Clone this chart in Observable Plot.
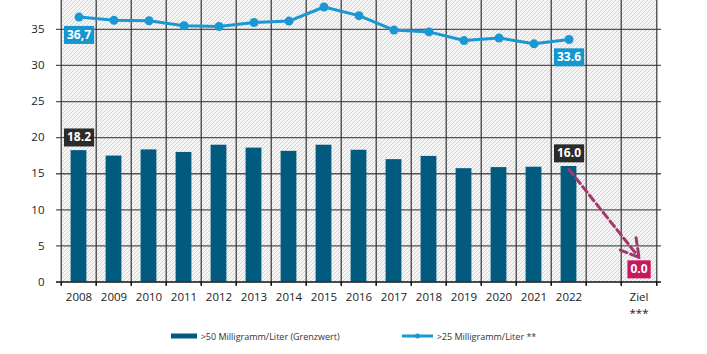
<!DOCTYPE html>
<html>
<head>
<meta charset="utf-8">
<script src="https://cdn.jsdelivr.net/npm/d3@7"></script>
<script src="https://cdn.jsdelivr.net/npm/@observablehq/plot@0.6"></script>
<style>
  body { margin: 0; background: #fff; }
  #legend { display: flex; justify-content: center; gap: 62px; height: 36px; align-items: center;
            font-family: "Open Sans", sans-serif; font-size: 9px; color: #333; }
  .item { display: flex; align-items: center; gap: 4px; }
</style>
</head>
<body>
<div id="chart"></div>
<div id="legend">
  <div class="item"><svg width="26" height="6"><rect x="0" y="0.5" width="26" height="5" fill="#025a7e"></rect></svg><span>&gt;50 Milligramm/Liter (Grenzwert)</span></div>
  <div class="item"><svg width="31" height="8"><line x1="0" y1="4" x2="31" y2="4" stroke="#1a98d3" stroke-width="3"></line><circle cx="15.5" cy="4" r="2.5" fill="#1a98d3"></circle></svg><span>&gt;25 Milligramm/Liter **</span></div>
</div>
<script>
const years = ["2008","2009","2010","2011","2012","2013","2014","2015","2016","2017","2018","2019","2020","2021","2022"];
const categories = [...years, " ", "Ziel"];
const xTickLabels = [...years, "", "Ziel"];
const footnoteMarks = [{cat: "Ziel", text: "***"}];
const barValues = [18.2, 17.45, 18.3, 17.95, 18.95, 18.55, 18.1, 18.95, 18.25, 16.95, 17.4, 15.7, 15.85, 15.9, 16.0];
const lineValues = [36.7, 36.25, 36.2, 35.5, 35.4, 35.95, 36.15, 38.1, 36.9, 34.9, 34.65, 33.45, 33.8, 33.0, 33.6];
const yTicks = [0, 5, 10, 15, 20, 25, 30, 35];
const yMax = 39;
const lineLabels = [{year: "2008", value: 36.7, text: "36,7"}, {year: "2022", value: 33.6, text: "33.6"}];
const barLabels = [{year: "2008", value: 18.2, text: "18.2"}, {year: "2022", value: 16.0, text: "16.0"}];
const targetLabels = [{year: "Ziel", value: 0, text: "0.0"}];
const arrowData = [{from: "2022", fromValue: 15.6, to: "Ziel", toValue: 3.4}];

const W = 707, H = 318, ML = 56, MR = 46, MB = 36.5;
const bw = (W - ML - MR) / categories.length;

// marker fills, swapped for the real styles after rendering
const FRAME_KEY = "#fefefe";
const boxColors = {"#fffffe": "#1496cf", "#fffffd": "#2b2b2b", "#fffffc": "#c8175f"};

const svg = Plot.plot({
  width: W, height: H, marginLeft: ML, marginRight: MR, marginTop: 0, marginBottom: MB,
  style: {fontFamily: "Open Sans, sans-serif", fontSize: "11.5px", color: "#222", background: "white", overflow: "visible"},
  x: {domain: categories, padding: 0, label: null, tickSize: 0, tickPadding: 11,
      tickFormat: d => xTickLabels[categories.indexOf(d)]},
  y: {domain: [0, yMax], ticks: yTicks, label: null, tickSize: 0, tickPadding: 12},
  marks: [
    Plot.barY(categories, {x: d => d, y1: 0, y2: yMax, fill: FRAME_KEY, shapeRendering: "crispEdges"}),
    Plot.ruleY(yTicks.filter(d => d > 0), {stroke: "#555", strokeWidth: 1.3}),
    Plot.ruleX(categories, {x: d => d, dx: -bw / 2, stroke: "#333", strokeWidth: 1.2}),
    Plot.ruleX(categories.slice(-1), {x: d => d, dx: bw / 2, stroke: "#333", strokeWidth: 1.2}),
    Plot.barY(barValues, {x: years, y: barValues, fill: "#025a7e", insetLeft: 9.6, insetRight: 9.6}),
    Plot.ruleY([0], {stroke: "#111", strokeWidth: 1.6}),
    Plot.ruleX(categories, {x: d => d, dx: -bw / 2, y1: 0, y2: -0.6, stroke: "#111", strokeWidth: 1.6}),
    Plot.ruleX(categories.slice(-1), {x: d => d, dx: bw / 2, y1: 0, y2: -0.6, stroke: "#111", strokeWidth: 1.6}),
    Plot.lineY(lineValues, {x: years, y: lineValues, stroke: "#1a98d3", strokeWidth: 3}),
    Plot.dot(lineValues, {x: years, y: lineValues, r: 4.5, fill: "#1a98d3"}),
    Plot.arrow(arrowData, {x1: "from", y1: "fromValue", x2: "to", y2: "toValue", stroke: "#a5376f",
      strokeWidth: 3, strokeDasharray: "7,4", headLength: 10}),
    Plot.text(footnoteMarks, {x: "cat", y: () => 0, text: "text", dy: 31, fill: "#222", fontSize: 11.5}),
    Plot.text(lineLabels, {x: "year", y: "value", text: "text", dy: 18, fill: "#fffffe", fontWeight: "bold", fontSize: 12}),
    Plot.text(barLabels, {x: "year", y: "value", text: "text", dy: -13, fill: "#fffffd", fontWeight: "bold", fontSize: 12}),
    Plot.text(targetLabels, {x: "year", y: "value", text: "text", dy: -12.5, fill: "#fffffc", fontWeight: "bold", fontSize: 12})
  ]
});

const defs = d3.select(svg).insert("defs", ":first-child");
const pat = defs.append("pattern").attr("id", "hatch").attr("patternUnits", "userSpaceOnUse").attr("width", 4).attr("height", 4);
pat.append("rect").attr("width", 4).attr("height", 4).attr("fill", "#f5f5f5");
pat.append("path").attr("d", "M-1,1 l2,-2 M0,4 l4,-4 M3,5 l2,-2").attr("stroke", "#cbcbcb").attr("stroke-width", 0.8);

document.getElementById("chart").append(svg);

// hatched plot background: only elements whose own fill is the marker
svg.querySelectorAll("rect, g").forEach(el => {
  if ((el.getAttribute("fill") || "").toLowerCase() === FRAME_KEY) el.setAttribute("fill", "url(#hatch)");
});

function addBox(t, color) {
  const b = t.getBBox();
  const r = document.createElementNS("http://www.w3.org/2000/svg", "rect");
  r.setAttribute("x", b.x - 3);
  r.setAttribute("y", b.y);
  r.setAttribute("width", b.width + 6);
  r.setAttribute("height", b.height + 1);
  r.setAttribute("fill", color);
  if (t.getAttribute("transform")) r.setAttribute("transform", t.getAttribute("transform"));
  t.parentNode.insertBefore(r, t);
}
svg.querySelectorAll("text").forEach(t => {
  const key = (t.getAttribute("fill") || "").toLowerCase();
  if (key in boxColors) { addBox(t, boxColors[key]); t.setAttribute("fill", "#ffffff"); }
});
svg.querySelectorAll("g").forEach(g => {
  const key = (g.getAttribute("fill") || "").toLowerCase();
  if (key in boxColors) {
    g.querySelectorAll("text").forEach(t => addBox(t, boxColors[key]));
    g.setAttribute("fill", "#ffffff");
  }
});
</script>
</body>
</html>
